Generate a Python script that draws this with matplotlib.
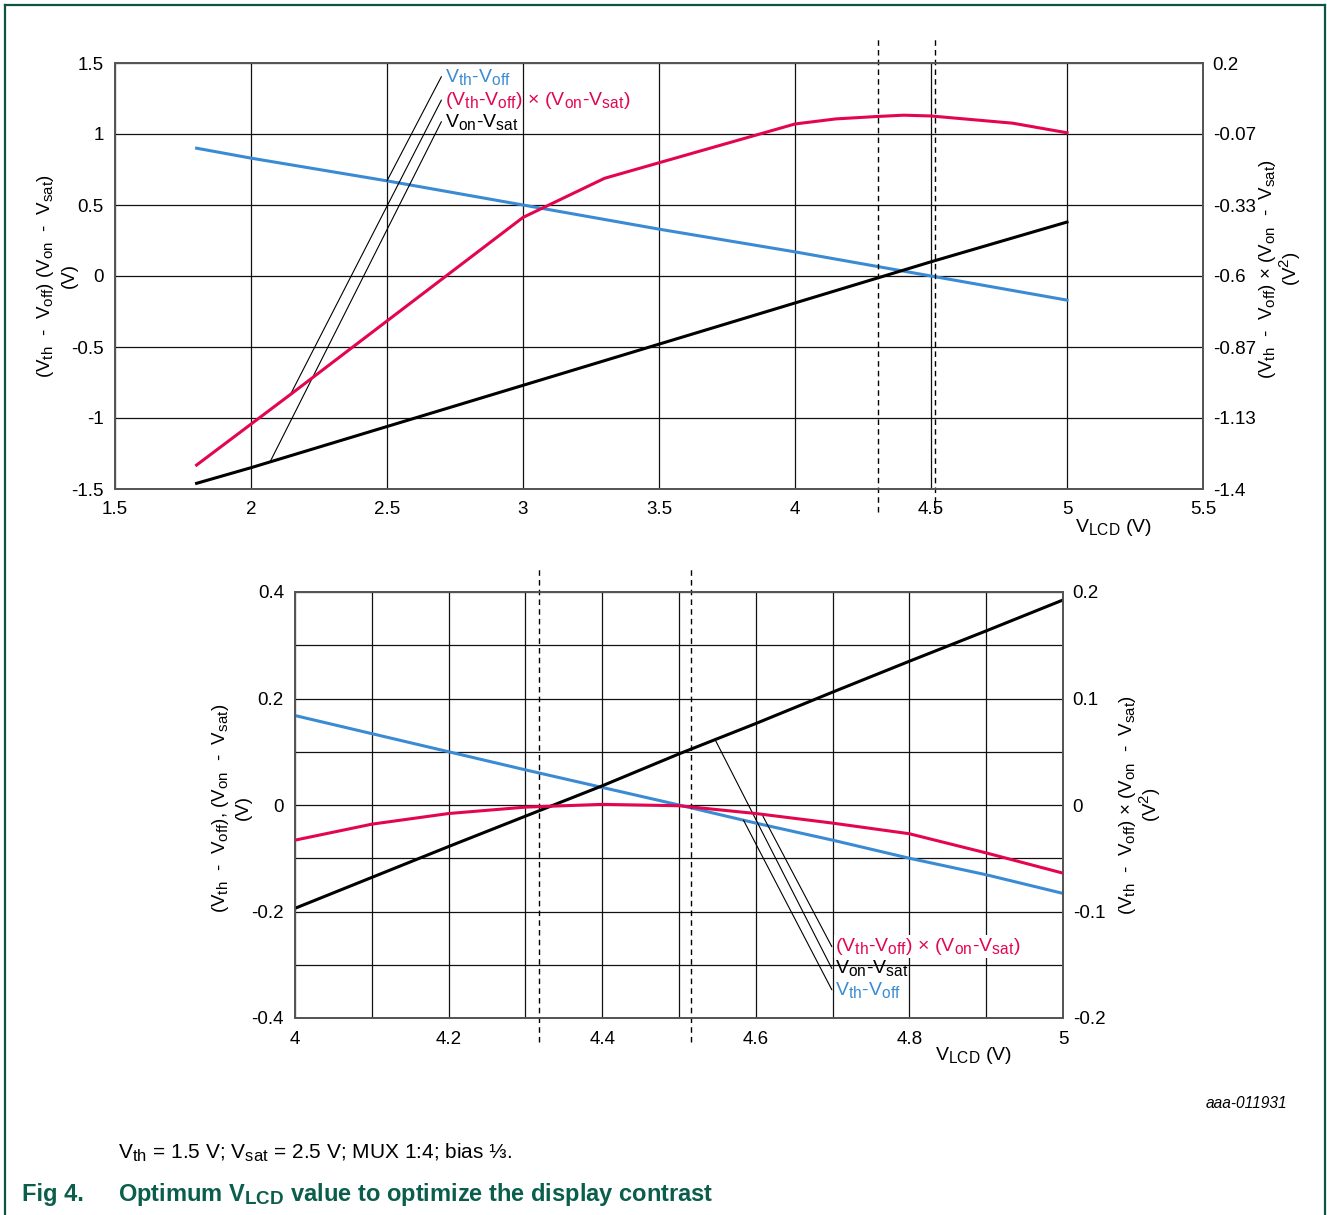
import numpy as np
import matplotlib
matplotlib.use('Agg')
import matplotlib.pyplot as plt
import matplotlib.transforms as mtransforms
from matplotlib.lines import Line2D
try:
    import matplotlib._mathtext as _mt
    _mt.SHRINK_FACTOR = 0.8
except Exception:
    pass

plt.rcParams['font.family'] = ['Liberation Sans', 'DejaVu Sans']
plt.rcParams['mathtext.fontset'] = 'custom'
plt.rcParams['mathtext.rm'] = 'Liberation Sans'
plt.rcParams['mathtext.it'] = 'Liberation Sans:italic'
plt.rcParams['mathtext.bf'] = 'Liberation Sans:bold'

# ---------------- data ----------------
# top chart
top_v = [1.8, 2.0, 2.5, 3.0, 3.5, 4.0, 4.5, 5.0]
top_vth_voff = [0.90, 0.83, 0.67, 0.50, 0.33, 0.17, 0.00, -0.17]
top_von_vsat = [-1.46, -1.35, -1.06, -0.77, -0.48, -0.19, 0.10, 0.38]
top_prod_v = [1.8, 2.145, 3.0, 3.3, 4.0, 4.15, 4.3, 4.4, 4.5, 4.8, 5.0]
top_prod = [-1.31, -1.045, -0.38, -0.233, -0.029, -0.010, -0.001, 0.004, 0.001, -0.026, -0.062]
top_opt = [4.305, 4.515]
top_xticks = [1.5, 2, 2.5, 3, 3.5, 4, 4.5, 5, 5.5]
top_xlabels = ['1.5', '2', '2.5', '3', '3.5', '4', '4.5', '5', '5.5']
top_yticks = [1.5, 1, 0.5, 0, -0.5, -1, -1.5]
top_ylabels = ['1.5', '1', '0.5', '0', '-0.5', '-1', '-1.5']
top_r_ylim = (-1.4, 0.2)
top_r_labels = ['0.2', '-0.07', '-0.33', '-0.6', '-0.87', '-1.13', '-1.4']

# bottom chart
bot_v = [4.0, 4.1, 4.2, 4.3, 4.4, 4.5, 4.6, 4.7, 4.8, 4.9, 5.0]
bot_vth_voff = [0.168, 0.134, 0.100, 0.066, 0.033, 0.000, -0.034, -0.066, -0.100, -0.131, -0.166]
bot_von_vsat = [-0.194, -0.136, -0.078, -0.021, 0.036, 0.096, 0.153, 0.212, 0.270, 0.327, 0.385]
bot_prod = [-0.033, -0.018, -0.008, -0.002, 0.0006, -0.0007, -0.008, -0.017, -0.027, -0.045, -0.064]
bot_opt = [4.318, 4.516]
bot_xticks = [4.0, 4.2, 4.4, 4.6, 4.8, 5.0]
bot_xlabels = ['4', '4.2', '4.4', '4.6', '4.8', '5']
bot_yticks = [0.4, 0.2, 0, -0.2, -0.4]
bot_ylabels = ['0.4', '0.2', '0', '-0.2', '-0.4']
bot_r_ylim = (-0.2, 0.2)
bot_r_labels = ['0.2', '0.1', '0', '-0.1', '-0.2']

# ---------------- style ----------------
BLUE = '#3b8bd4'
RED = '#e3064f'
BLACK = '#000000'
TEAL = '#0f5247'
TITLE = '#0b5e4b'
FS = 13.5
LFS = 14

W, H = 1327, 1215
fig = plt.figure(figsize=(W / 100, H / 100), dpi=100)


def fx(x):
    return x / W


def fy(y):
    return 1 - y / H


def sub(base, s):
    return base + r'$_{\mathrm{' + s + r'}}$'


VthVoff = sub('V', 'th') + '-' + sub('V', 'off')
VonVsat = sub('V', 'on') + '-' + sub('V', 'sat')
Prod = '(' + VthVoff + ') × (' + VonVsat + ')'
YL_TOP = '(' + sub('V', 'th') + '  -  ' + sub('V', 'off') + ') (' + sub('V', 'on') + '  -  ' + sub('V', 'sat') + ')'
YL_BOT = '(' + sub('V', 'th') + '  -  ' + sub('V', 'off') + '), (' + sub('V', 'on') + '  -  ' + sub('V', 'sat') + ')'
YR = '(' + sub('V', 'th') + '  -  ' + sub('V', 'off') + ') × (' + sub('V', 'on') + '  -  ' + sub('V', 'sat') + ')'


def style_axes(ax, ax2):
    for a in (ax, ax2):
        for s in a.spines.values():
            s.set_color('#555555')
            s.set_linewidth(1.3)
        a.tick_params(which='both', length=0, labelsize=FS)
    ax.tick_params(axis='y', pad=8)
    ax.tick_params(axis='x', pad=9)
    ax2.tick_params(axis='y', pad=7)
    ax.grid(True, which='both', color='#111111', linewidth=0.9)
    ax.set_axisbelow(True)


def leader(ax, curve_ax, xe, ye, lx, ly):
    ax.annotate('', xy=(xe, ye), xycoords=curve_ax.transData,
                xytext=(lx, ly), textcoords=ax.transData,
                arrowprops=dict(arrowstyle='-', lw=0.8, color='black',
                                shrinkA=0, shrinkB=0), annotation_clip=False)


def opt_lines(ax, xs, lo, hi):
    tr = mtransforms.blended_transform_factory(ax.transData, ax.transAxes)
    for x in xs:
        ax.plot([x, x], [lo, hi], transform=tr, clip_on=False, color='black',
                lw=1.0, linestyle=(0, (4, 3)), zorder=5)


def vlabel(x1, x2, y, line1, line2):
    fig.text(fx(x1), fy(y), line1, rotation=90, ha='center', va='center', fontsize=FS)
    fig.text(fx(x2), fy(y), line2, rotation=90, ha='center', va='center', fontsize=FS)


# ---------------- top chart ----------------
ax = fig.add_axes([fx(115), fy(489), fx(1203) - fx(115), fy(63) - fy(489)])
ax.set_xlim(1.5, 5.5)
ax.set_ylim(-1.5, 1.5)
ax.set_xticks(top_xticks, top_xlabels)
ax.set_yticks(top_yticks, top_ylabels)
ax2 = ax.twinx()
ax2.set_ylim(*top_r_ylim)
ax2.set_yticks(np.linspace(top_r_ylim[1], top_r_ylim[0], len(top_r_labels)), top_r_labels)
style_axes(ax, ax2)

ax.plot(top_v, top_vth_voff, color=BLUE, lw=2.2, zorder=3)
ax.plot(top_v, top_von_vsat, color=BLACK, lw=2.2, zorder=3)
ax2.plot(top_prod_v, top_prod, color=RED, lw=2.2, zorder=3)
opt_lines(ax, top_opt, -0.054, 1.059)

# leaders / labels
top_lab_x = 2.70
top_lab_y = [1.404, 1.239, 1.087]
leader(ax, ax, 2.5, np.interp(2.5, top_v, top_vth_voff), top_lab_x, top_lab_y[0])
leader(ax, ax2, 2.145, np.interp(2.145, top_prod_v, top_prod), top_lab_x, top_lab_y[1])
leader(ax, ax, 2.07, np.interp(2.07, top_v, top_von_vsat), top_lab_x, top_lab_y[2])
ax.text(top_lab_x + 0.012, top_lab_y[0], VthVoff, color=BLUE, fontsize=LFS, va='center', ha='left')
ax.text(top_lab_x + 0.012, top_lab_y[1], Prod, color=RED, fontsize=LFS, va='center', ha='left')
ax.text(top_lab_x + 0.012, top_lab_y[2], VonVsat, color=BLACK, fontsize=LFS, va='center', ha='left')

fig.text(fx(1075), fy(527), sub('V', 'LCD') + ' (V)', fontsize=LFS, ha='left', va='center')
vlabel(46, 69, 276, YL_TOP, '(V)')
vlabel(1267, 1290, 269, YR, '(V$^{2}$)')

# ---------------- bottom chart ----------------
bx = fig.add_axes([fx(295), fy(1018), fx(1063) - fx(295), fy(592) - fy(1018)])
bx.set_xlim(4.0, 5.0)
bx.set_ylim(-0.4, 0.4)
bx.set_xticks(bot_xticks, bot_xlabels)
bx.set_xticks(np.arange(4.1, 5.0, 0.2), minor=True)
bx.set_yticks(bot_yticks, bot_ylabels)
bx.set_yticks(np.arange(-0.3, 0.31, 0.2), minor=True)
bx2 = bx.twinx()
bx2.set_ylim(*bot_r_ylim)
bx2.set_yticks(np.linspace(bot_r_ylim[1], bot_r_ylim[0], len(bot_r_labels)), bot_r_labels)
style_axes(bx, bx2)

bx.plot(bot_v, bot_vth_voff, color=BLUE, lw=2.2, zorder=3)
bx.plot(bot_v, bot_von_vsat, color=BLACK, lw=2.2, zorder=3)
bx2.plot(bot_v, bot_prod, color=RED, lw=2.2, zorder=3)
opt_lines(bx, bot_opt, -0.056, 1.059)

bot_lab_x = 4.699
bot_lab_y = [-0.266, -0.307, -0.347]
leader(bx, bx2, 4.608, np.interp(4.608, bot_v, bot_prod), bot_lab_x, bot_lab_y[0])
leader(bx, bx, 4.547, np.interp(4.547, bot_v, bot_von_vsat), bot_lab_x, bot_lab_y[1])
leader(bx, bx, 4.584, np.interp(4.584, bot_v, bot_vth_voff), bot_lab_x, bot_lab_y[2])
bx.text(bot_lab_x + 0.004, bot_lab_y[0], Prod, color=RED, fontsize=LFS, va='center', ha='left',
        bbox=dict(facecolor='white', edgecolor='none', pad=0.5))
bx.text(bot_lab_x + 0.004, bot_lab_y[1], VonVsat, color=BLACK, fontsize=LFS, va='center', ha='left')
bx.text(bot_lab_x + 0.004, bot_lab_y[2], VthVoff, color=BLUE, fontsize=LFS, va='center', ha='left')

fig.text(fx(935), fy(1056), sub('V', 'LCD') + ' (V)', fontsize=LFS, ha='left', va='center')
vlabel(221, 243, 808, YL_BOT, '(V)')
vlabel(1127, 1150, 805, YR, '(V$^{2}$)')

# ---------------- captions ----------------
fig.text(fx(1287), fy(1103), 'aaa-011931', fontsize=11.2, style='italic', ha='right', va='center')
fig.text(fx(118), fy(1153),
         sub('V', 'th') + ' = 1.5 V; ' + sub('V', 'sat') + ' = 2.5 V; MUX 1:4; bias ⅓.',
         fontsize=15, ha='left', va='center')
fig.text(fx(22), fy(1194), 'Fig 4.', fontsize=17, fontweight='bold', color=TITLE, ha='left', va='center')
fig.text(fx(118), fy(1194), r'Optimum V$_{\mathbf{LCD}}$ value to optimize the display contrast',
         fontsize=17, fontweight='bold', color=TITLE, ha='left', va='center')

# frame
for (x0, y0, x1, y1) in [(5, 5, 1325, 5), (5, 5, 5, 1215), (1325, 5, 1325, 1215)]:
    fig.add_artist(Line2D([fx(x0), fx(x1)], [fy(y0), fy(y1)], color=TEAL, lw=1.6,
                          transform=fig.transFigure))

fig.savefig('out.png', dpi=100)
